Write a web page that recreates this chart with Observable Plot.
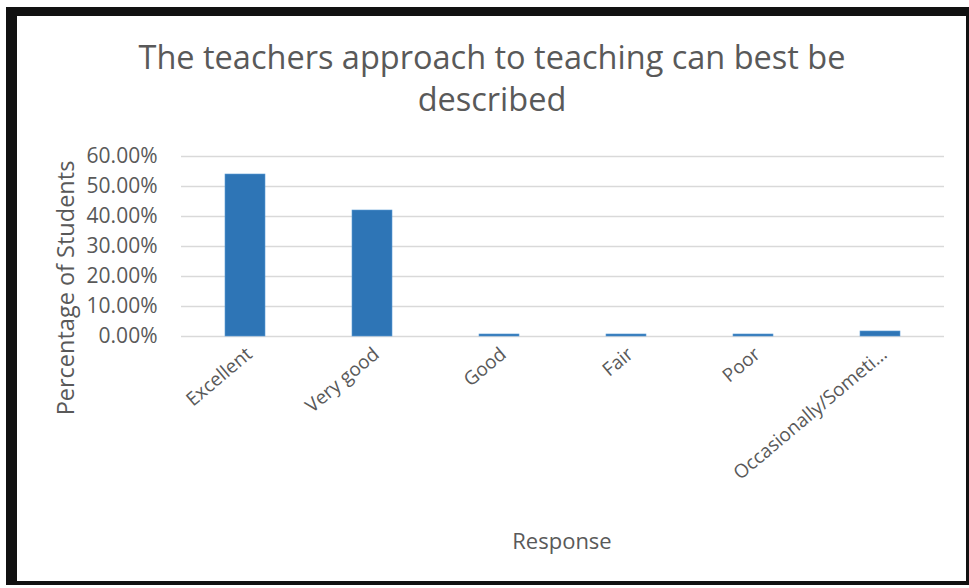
<!DOCTYPE html>
<html>
<head>
<meta charset="utf-8">
<script src="https://cdn.jsdelivr.net/npm/d3@7"></script>
<script src="https://cdn.jsdelivr.net/npm/@observablehq/plot@0.6"></script>
<style>
  html, body { margin: 0; padding: 0; background: #fff; }
  body { width: 969px; height: 588px; position: relative; overflow: hidden; font-family: "Open Sans", sans-serif; }
  #frame { position: absolute; left: 6px; top: 7px; width: 949px; height: 565px;
           border-style: solid; border-color: #111; border-width: 9px 3px 4px 11px; pointer-events: none; z-index: 3; }
  #title { position: absolute; left: 0; top: 36px; width: 984px; text-align: center; color: #595959;
           font-size: 32.5px; line-height: 42px; z-index: 2; }
  #chart { position: absolute; left: 0; top: 0; }
</style>
</head>
<body>
<div id="chart"></div>
<div id="title">The teachers approach to teaching can best be<br>described</div>
<div id="frame"></div>
<script>
const categories = ["Excellent", "Very good", "Good", "Fair", "Poor", "Occasionally/Someti…"];
const percentages = [0.54, 0.42, 0.0067, 0.0067, 0.0067, 0.0167];
const yTicks = [0, 0.1, 0.2, 0.3, 0.4, 0.5, 0.6];
const yAxisTitle = "Percentage of Students";
const xAxisTitle = "Response";

const data = categories.map((c, i) => ({category: c, value: percentages[i]}));

const chart = Plot.plot({
  width: 969,
  height: 588,
  marginTop: 156,
  marginBottom: 252,
  marginLeft: 181,
  marginRight: 25,
  style: {fontFamily: "Open Sans, sans-serif", color: "#595959", background: "transparent", overflow: "visible"},
  x: {domain: categories, paddingInner: 0.686, paddingOuter: 0.343, label: null},
  y: {domain: [0, 0.6], label: null},
  marks: [
    Plot.gridY(yTicks, {stroke: "#d9d9d9", strokeOpacity: 1, strokeWidth: 1.5}),
    Plot.barY(data, {x: "category", y: "value", fill: "#2e75b6", stroke: "#5b9bd5", strokeWidth: 0.6}),
    Plot.axisY(yTicks, {tickSize: 0, tickPadding: 24, tickFormat: d3.format(".2%"), fontSize: 21, fill: "#595959", label: null}),
    Plot.axisX({tickSize: 0, tickRotate: -40, tickPadding: 15, dx: 4, fontSize: 19, fill: "#595959", label: null})
  ]
});
document.getElementById("chart").appendChild(chart);

const svg = d3.select(chart);
svg.append("text")
  .attr("transform", "translate(74,288) rotate(-90)")
  .attr("text-anchor", "middle")
  .attr("font-size", 23.5)
  .attr("fill", "#595959")
  .text(yAxisTitle);
svg.append("text")
  .attr("x", 562).attr("y", 549)
  .attr("text-anchor", "middle")
  .attr("font-size", 22)
  .attr("fill", "#595959")
  .text(xAxisTitle);
</script>
</body>
</html>
